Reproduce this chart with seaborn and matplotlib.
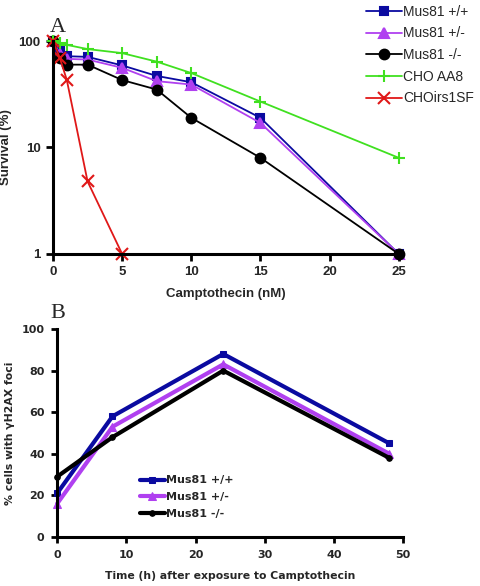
import numpy as np
import pandas as pd
import seaborn as sns
import matplotlib
matplotlib.use('Agg')
import matplotlib.pyplot as plt

# painel A - sobrevivencia
dose_nm = [0, 0.5, 1, 2.5, 5, 7.5, 10, 15, 25]
dose_red = [0, 0.5, 1, 2.5, 5]
surv_wt = [100, 81, 72, 71, 59, 47, 41, 19, 1]
surv_het = [100, 75, 68, 67, 56, 42, 39, 17, 1]
surv_ko = [100, 70, 60, 60, 43, 35, 19, 8, 1]
surv_aa8 = [100, 95, 92, 84, 77, 64, 50, 27, 8]
surv_irs1sf = [100, 69, 43, 4.8, 1]

# painel B - foci gH2AX
time_h = [0, 8, 24, 48]
foci_wt = [21, 58, 88, 45]
foci_het = [16, 53, 83, 40]
foci_ko = [29, 48, 80, 38]

labels_a = ['Mus81 +/+', 'Mus81 +/-', 'Mus81 -/-', 'CHO AA8', 'CHOirs1SF']
labels_b = ['Mus81 +/+', 'Mus81 +/-', 'Mus81 -/-']

sns.set_theme(style='white')
plt.rcParams['font.family'] = ['Liberation Sans', 'DejaVu Sans']

fig = plt.figure(figsize=(4.8, 5.86), dpi=100)
ax1 = fig.add_axes([0.1104, 0.5666, 0.7204, 0.3634])
ax2 = fig.add_axes([0.119, 0.0836, 0.721, 0.3550])

# ---------- A ----------
estilos_a = [
    (dose_nm, surv_wt, '#0A0AA0', 's', 6),
    (dose_nm, surv_het, '#B040F0', '^', 7),
    (dose_nm, surv_ko, 'black', 'o', 7),
    (dose_nm, surv_aa8, '#40E020', '+', 9),
    (dose_red, surv_irs1sf, '#E01818', 'x', 9),
]
for (x, y, cor, mk, ms), lab in zip(estilos_a, labels_a):
    df = pd.DataFrame({'x': x, 'y': y})
    sns.lineplot(data=df, x='x', y='y', ax=ax1, color=cor, marker=mk,
                 markersize=ms, linewidth=1.3, markeredgecolor=cor,
                 markeredgewidth=1.5, label=lab, clip_on=False)

ax1.set_yscale('log')
ax1.set_ylim(1, 100)
ax1.set_xlim(0, 25)
ax1.set_xticks([0, 5, 10, 15, 20, 25])
ax1.set_yticks([1, 10, 100])
ax1.set_yticklabels(['1', '10', '100'])
ax1.minorticks_off()
ax1.set_xlabel('Camptothecin (nM)', fontsize=9.5, fontweight='bold', labelpad=7)
ax1.set_ylabel('Survival (%)', fontsize=9.5, fontweight='bold')
ax1.yaxis.set_label_coords(-0.118, 0.5)
for s in ['top', 'right']:
    ax1.spines[s].set_visible(False)
for s in ['left', 'bottom']:
    ax1.spines[s].set_linewidth(2.2)
    ax1.spines[s].set_color('black')
ax1.tick_params(axis='both', direction='out', length=5, width=2, labelsize=9.5,
                pad=4, left=True, bottom=True, color='black')
for t in ax1.get_xticklabels() + ax1.get_yticklabels():
    t.set_fontweight('bold')
leg = ax1.legend(loc='upper left', bbox_to_anchor=(0.905, 1.17), frameon=False,
                 fontsize=10, handlelength=2.6, handletextpad=0.1,
                 labelspacing=0.55, borderaxespad=0, borderpad=0)
fig.text(0.104, 0.945, 'A', family='Liberation Serif', fontsize=16)

# ---------- B ----------
estilos_b = [
    (foci_wt, '#0A0AA0', 's', 5),
    (foci_het, '#B040F0', '^', 6),
    (foci_ko, 'black', 'o', 4),
]
for (y, cor, mk, ms), lab in zip(estilos_b, labels_b):
    df = pd.DataFrame({'x': time_h, 'y': y})
    sns.lineplot(data=df, x='x', y='y', ax=ax2, color=cor, marker=mk,
                 markersize=ms, linewidth=3, markeredgecolor=cor,
                 label=lab, clip_on=False)

ax2.set_xlim(0, 50)
ax2.set_ylim(0, 100)
ax2.set_xticks(range(0, 51, 10))
ax2.set_yticks(range(0, 101, 20))
ax2.set_xlabel('Time (h) after exposure to Camptothecin', fontsize=7.8,
               fontweight='bold', family='DejaVu Sans', labelpad=8)
ax2.set_ylabel('% cells with \u03b3H2AX foci', fontsize=7.8, fontweight='bold',
               family='DejaVu Sans')
ax2.yaxis.set_label_coords(-0.121, 0.5)
for s in ['top', 'right']:
    ax2.spines[s].set_visible(False)
for s in ['left', 'bottom']:
    ax2.spines[s].set_linewidth(2.2)
    ax2.spines[s].set_color('black')
ax2.tick_params(axis='both', direction='out', length=4, width=2, labelsize=8,
                pad=5, left=True, bottom=True, color='black')
for t in ax2.get_xticklabels() + ax2.get_yticklabels():
    t.set_fontweight('bold')
    t.set_family('DejaVu Sans')
leg2 = ax2.legend(loc='upper left', bbox_to_anchor=(0.24, 0.296), frameon=False,
                  prop={'family': 'DejaVu Sans', 'weight': 'bold', 'size': 8},
                  handlelength=2.2, handletextpad=0.1, labelspacing=0.6,
                  borderaxespad=0, borderpad=0)
fig.text(0.104, 0.457, 'B', family='Liberation Serif', fontsize=16)

fig.savefig('out.png', dpi=100)
